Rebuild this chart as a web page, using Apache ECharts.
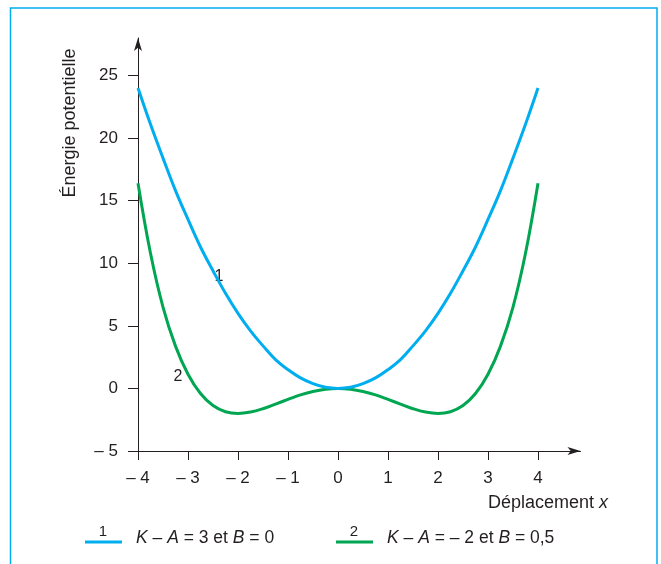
<!DOCTYPE html>
<html>
<head>
<meta charset="utf-8">
<script src="https://cdn.jsdelivr.net/npm/echarts@6/dist/echarts.min.js"></script>
<style>html,body{margin:0;padding:0;background:#fff}#c{width:661px;height:564px}</style>
</head>
<body>
<div id="c"></div>
<script>
// Displacement x (abscissa samples)
const xs = [-4,-3.75,-3.5,-3.25,-3,-2.75,-2.5,-2.25,-2,-1.75,-1.5,-1.25,-1,-0.75,-0.5,-0.25,0,
            0.25,0.5,0.75,1,1.25,1.5,1.75,2,2.25,2.5,2.75,3,3.25,3.5,3.75,4];
// Curve 1 : K - A = 3, B = 0
const curve1 = [24,21.1,18.4,15.8,13.5,11.3,9.4,7.6,6,4.6,3.4,2.3,1.5,0.84,0.38,0.09,0,
                0.09,0.38,0.84,1.5,2.3,3.4,4.6,6,7.6,9.4,11.3,13.5,15.8,18.4,21.1,24];
// Curve 2 : K - A = -2, B = 0.5
const curve2 = [16.4,10.8,6.5,3.38,1.13,-0.41,-1.37,-1.86,-2,-1.89,-1.62,-1.25,-0.88,-0.52,-0.24,-0.06,0,
                -0.06,-0.24,-0.52,-0.88,-1.25,-1.62,-1.89,-2,-1.86,-1.37,-0.41,1.13,3.38,6.5,10.8,16.4];
const xTicks = [-4,-3,-2,-1,0,1,2,3,4];
const yTicks = [-5,0,5,10,15,20,25];
const legend1 = '{i|K} – {i|A} = 3 et {i|B} = 0';
const legend2 = '{i|K} – {i|A} = – 2 et {i|B} = 0,5';

const BLUE = '#00aeef', GREEN = '#00a651', INK = '#231f20';
const FONT = 'Liberation Sans, Arial, Helvetica, sans-serif';
const fmt = v => (v < 0 ? '\u2013 ' + Math.abs(v) : String(v));
const rich = size => ({
  n: {fontSize: size, fontFamily: FONT, fill: INK},
  i: {fontSize: size, fontFamily: FONT, fill: INK, fontStyle: 'italic'}
});

const chart = echarts.init(document.getElementById('c'), null, {renderer: 'canvas'});
chart.setOption({
  animation: false,
  backgroundColor: '#fff',
  grid: {left: 138, right: 80.5, top: 38, bottom: 113},
  xAxis: {
    type: 'value', min: -4, max: 4.85,
    splitLine: {show: false},
    axisLine: {onZero: false, symbol: ['none', 'arrow'], symbolSize: [6, 13],
               lineStyle: {color: INK, width: 1}},
    axisTick: {customValues: xTicks, length: 9, lineStyle: {color: INK}},
    axisLabel: {customValues: xTicks, formatter: fmt, margin: 19, fontSize: 17, fontFamily: FONT, color: INK}
  },
  yAxis: {
    type: 'value', min: -5, max: 28,
    splitLine: {show: false},
    axisLine: {onZero: false, symbol: ['none', 'arrow'], symbolSize: [6, 13],
               lineStyle: {color: INK, width: 1}},
    axisTick: {customValues: yTicks, length: 10, lineStyle: {color: INK}},
    axisLabel: {customValues: yTicks, formatter: fmt, margin: 20, fontSize: 17, fontFamily: FONT, color: INK}
  },
  series: [
    {type: 'line', data: xs.map((x, k) => [x, curve1[k]]), smooth: 0.4, showSymbol: false,
     lineStyle: {color: BLUE, width: 3}, itemStyle: {color: BLUE}, clip: false, z: 3},
    {type: 'line', data: xs.map((x, k) => [x, curve2[k]]), smooth: 0.4, showSymbol: false,
     lineStyle: {color: GREEN, width: 3}, itemStyle: {color: GREEN}, clip: false, z: 2}
  ],
  graphic: [
    {type: 'polyline', shape: {points: [[10.5, 564], [10.5, 8], [657, 8], [657, 564]]},
     style: {stroke: BLUE, lineWidth: 1.5, fill: null}},
    {type: 'text', x: 70, y: 123, rotation: Math.PI / 2,
     style: {text: 'Énergie potentielle', align: 'center', verticalAlign: 'middle',
             fontSize: 18, fontFamily: FONT, fill: INK}},
    {type: 'text', x: 608, y: 503,
     style: {text: '{n|Déplacement }{i|x}', rich: rich(18), align: 'right', verticalAlign: 'middle',
             fontSize: 18, fontFamily: FONT, fill: INK}},
    {type: 'text', x: 219, y: 277,
     style: {text: '1', align: 'center', verticalAlign: 'middle', fontSize: 16, fontFamily: FONT, fill: INK}},
    {type: 'text', x: 178, y: 377,
     style: {text: '2', align: 'center', verticalAlign: 'middle', fontSize: 16, fontFamily: FONT, fill: INK}},
    {type: 'line', shape: {x1: 85, y1: 542, x2: 122, y2: 542}, style: {stroke: BLUE, lineWidth: 3}},
    {type: 'text', x: 103, y: 532,
     style: {text: '1', align: 'center', verticalAlign: 'middle', fontSize: 15, fontFamily: FONT, fill: INK}},
    {type: 'text', x: 136, y: 538,
     style: {text: legend1, rich: rich(17.5), align: 'left', verticalAlign: 'middle',
             fontSize: 17.5, fontFamily: FONT, fill: INK}},
    {type: 'line', shape: {x1: 336, y1: 542, x2: 373, y2: 542}, style: {stroke: GREEN, lineWidth: 3}},
    {type: 'text', x: 354, y: 532,
     style: {text: '2', align: 'center', verticalAlign: 'middle', fontSize: 15, fontFamily: FONT, fill: INK}},
    {type: 'text', x: 387, y: 538,
     style: {text: legend2, rich: rich(17.5), align: 'left', verticalAlign: 'middle',
             fontSize: 17.5, fontFamily: FONT, fill: INK}}
  ]
});
</script>
</body>
</html>
